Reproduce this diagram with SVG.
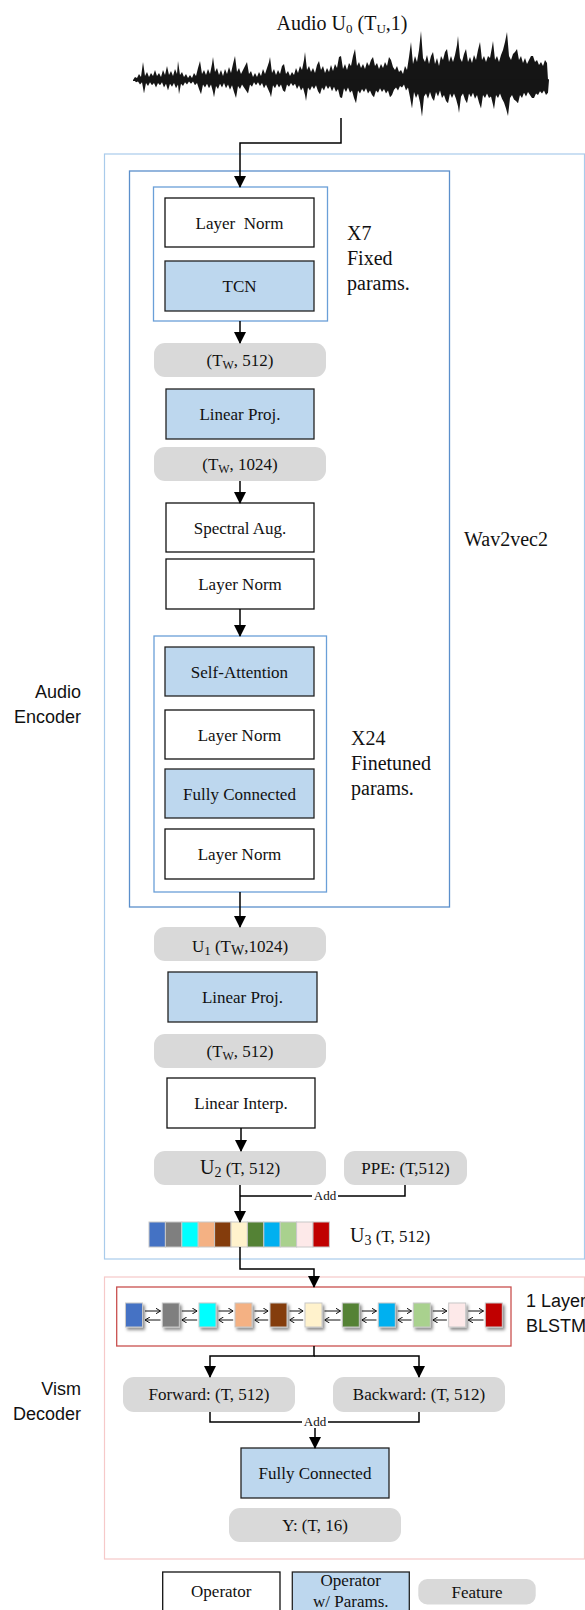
<svg xmlns="http://www.w3.org/2000/svg" width="585" height="1610" viewBox="0 0 585 1610">
<style>
.op{fill:#fff;stroke:#111;stroke-width:1.3}
.opp{fill:#BDD7EE;stroke:#222;stroke-width:1.3}
.ft{fill:#D9D9D9}
.t{font-family:"Liberation Serif","Times New Roman",serif;font-size:17px;fill:#111;text-anchor:middle}
.ts{text-anchor:start}
.lbl{font-family:"Liberation Serif","Times New Roman",serif;font-size:20px;fill:#111}
.sans{font-family:"Liberation Sans",Arial,sans-serif;font-size:18px;fill:#111}
.conn{stroke:#000;stroke-width:1.5;fill:none}
.thin{stroke:#111;stroke-width:1;fill:none}
.add{font-family:"Liberation Serif","Times New Roman",serif;font-size:13px;fill:#111;text-anchor:middle}
.sq{stroke:#c8c8c8;stroke-width:1}
</style>
<defs>
<marker id="ah" markerWidth="12" markerHeight="12" refX="11" refY="6" orient="auto" markerUnits="userSpaceOnUse"><path d="M0,0 L12,6 L0,12 z" fill="#000"/></marker>
<marker id="sa" markerWidth="5" markerHeight="6" refX="5" refY="3" orient="auto" markerUnits="userSpaceOnUse"><path d="M0,0 L5,3 L0,6" fill="none" stroke="#111" stroke-width="1"/></marker>
<filter id="sh" x="-30%" y="-30%" width="170%" height="170%"><feDropShadow dx="2" dy="2.5" stdDeviation="1.5" flood-color="#000" flood-opacity="0.45"/></filter>
<polygon id="wavetop" points="133,80 135,77 137,78 139,74 141,77 143,62 145,76 147,72 149,77 151,73 153,76 155,70 157,76 159,73 161,77 163,70 165,75 167,66 169,75 171,71 173,76 175,69 177,74 178,61 180,75 182,72 184,77 186,74 188,78 190,75 192,78 194,73 196,76 198,68 200,61 202,74 204,70 206,75 208,69 210,74 212,64 213,57 215,72 217,68 219,75 221,70 223,76 225,69 227,74 229,67 231,73 233,64 235,56 237,72 239,68 241,74 243,70 245,66 247,62 249,74 251,71 253,77 255,73 257,77 259,72 261,76 263,69 265,74 267,68 269,62 270,57 272,73 274,69 276,75 278,70 280,74 282,66 284,64 286,74 288,71 290,76 292,72 294,75 296,68 298,73 300,66 302,70 304,60 305,52 307,70 309,66 311,72 313,68 315,73 317,65 319,61 321,70 323,66 325,73 327,68 329,72 331,65 333,71 335,64 337,68 339,57 341,56 343,69 345,64 347,70 349,63 351,66 353,56 355,49 357,66 359,62 361,68 363,64 365,69 367,62 369,66 371,60 373,57 375,66 377,63 379,69 381,64 383,68 385,62 387,66 389,57 391,60 393,67 395,70 397,66 399,72 401,70 403,74 405,66 407,70 409,57 411,42 413,64 415,56 417,62 419,50 421,31 423,58 425,62 427,55 429,64 431,56 433,52 435,64 437,58 439,66 441,56 443,60 445,52 447,49 449,62 451,56 453,62 455,55 457,45 458,36 460,58 462,62 464,54 466,49 468,62 470,57 472,63 474,55 476,60 478,50 480,42 482,60 484,56 486,62 488,56 490,58 492,47 493,41 495,60 497,56 499,62 501,55 503,50 505,42 507,32 509,56 511,60 513,54 515,52 517,49 519,60 521,56 523,63 525,58 527,64 529,60 531,56 533,56 535,62 537,60 539,65 541,62 543,66 545,60 547,63 548,80 548,81 133,81"/>
</defs>
<rect width="585" height="1610" fill="#fff"/>

<!-- title and waveform -->
<g id="audio-input">
<text class="lbl" x="342" y="30" text-anchor="middle">Audio U<tspan font-size="13" dy="3">0</tspan><tspan dy="-3"> (T</tspan><tspan font-size="13" dy="3">U</tspan><tspan dy="-3">,1)</tspan></text>
<g fill="#151515">
<use href="#wavetop"/>
<use href="#wavetop" transform="translate(1,140) scale(1,-0.75)"/>
</g>
</g>

<!-- containers -->
<g id="audio-encoder">
<rect x="104.5" y="154" width="480" height="1105" fill="none" stroke="#A9CBEB" stroke-width="1.2"/>
<text class="sans" x="81" y="698" text-anchor="end">Audio</text>
<text class="sans" x="81" y="723" text-anchor="end">Encoder</text>
</g>
<g id="wav2vec2">
<rect x="129.5" y="171" width="320" height="736" fill="none" stroke="#5B8FCB" stroke-width="1.3"/>
<text class="lbl" x="464" y="546">Wav2vec2</text>
</g>
<g id="x7-block">
<rect x="153.5" y="187" width="174" height="134" fill="none" stroke="#6A9FD8" stroke-width="1.3"/>
<text class="lbl" x="347" y="240">X7</text>
<text class="lbl" x="347" y="265">Fixed</text>
<text class="lbl" x="347" y="290">params.</text>
</g>
<g id="x24-block">
<rect x="154" y="636" width="172.5" height="256" fill="none" stroke="#6A9FD8" stroke-width="1.3"/>
<text class="lbl" x="351" y="745">X24</text>
<text class="lbl" x="351" y="770">Finetuned</text>
<text class="lbl" x="351" y="795">params.</text>
</g>
<g id="vism-decoder">
<rect x="104.5" y="1277" width="480" height="282" fill="none" stroke="#F6C9C9" stroke-width="1.2"/>
<text class="sans" x="81" y="1395" text-anchor="end">Vism</text>
<text class="sans" x="81" y="1420" text-anchor="end">Decoder</text>
</g>

<!-- nodes -->
<g id="layer-norm-1"><rect class="op" x="165" y="198" width="149" height="49"/><text class="t" x="239.5" y="229" xml:space="preserve">Layer  Norm</text></g>
<g id="tcn"><rect class="opp" x="165" y="261" width="149" height="50"/><text class="t" x="239.5" y="292">TCN</text></g>
<g id="feat-tw-512-a"><rect class="ft" x="154" y="343" width="172" height="34" rx="11"/><text class="t" x="240" y="366">(T<tspan font-size="12" dy="3">W</tspan><tspan dy="-3">, 512)</tspan></text></g>
<g id="linear-proj-1"><rect class="opp" x="166" y="389" width="148" height="50"/><text class="t" x="240" y="420">Linear Proj.</text></g>
<g id="feat-tw-1024"><rect class="ft" x="154" y="447" width="172" height="34" rx="11"/><text class="t" x="240" y="470">(T<tspan font-size="12" dy="3">W</tspan><tspan dy="-3">, 1024)</tspan></text></g>
<g id="spectral-aug"><rect class="op" x="166" y="503" width="148" height="49"/><text class="t" x="240" y="534">Spectral Aug.</text></g>
<g id="layer-norm-2"><rect class="op" x="166" y="559" width="148" height="50"/><text class="t" x="240" y="590">Layer Norm</text></g>
<g id="self-attention"><rect class="opp" x="165" y="647" width="149" height="49"/><text class="t" x="239.5" y="678">Self-Attention</text></g>
<g id="layer-norm-3"><rect class="op" x="165" y="710" width="149" height="49"/><text class="t" x="239.5" y="741">Layer Norm</text></g>
<g id="fully-connected-1"><rect class="opp" x="165" y="769" width="149" height="49"/><text class="t" x="239.5" y="800">Fully Connected</text></g>
<g id="layer-norm-4"><rect class="op" x="165" y="829" width="149" height="50"/><text class="t" x="239.5" y="860">Layer Norm</text></g>
<g id="feat-u1"><rect class="ft" x="154" y="927" width="172" height="34" rx="11"/><text class="t" x="240" y="952" font-size="20">U<tspan font-size="13" dy="3">1</tspan><tspan dy="-3"> (T</tspan><tspan font-size="14" dy="3">W</tspan><tspan dy="-3">,1024)</tspan></text></g>
<g id="linear-proj-2"><rect class="opp" x="168" y="972" width="149" height="50"/><text class="t" x="242.5" y="1003">Linear Proj.</text></g>
<g id="feat-tw-512-b"><rect class="ft" x="154" y="1034" width="172" height="34" rx="11"/><text class="t" x="240" y="1057">(T<tspan font-size="12" dy="3">W</tspan><tspan dy="-3">, 512)</tspan></text></g>
<g id="linear-interp"><rect class="op" x="167" y="1078" width="148" height="50"/><text class="t" x="241" y="1109">Linear Interp.</text></g>
<g id="feat-u2"><rect class="ft" x="154" y="1151" width="172" height="34" rx="11"/><text class="t" x="240" y="1174"><tspan font-size="20">U</tspan><tspan font-size="14" dy="3">2</tspan><tspan dy="-3"> (T, 512)</tspan></text></g>
<g id="feat-ppe"><rect class="ft" x="344" y="1151" width="123" height="34" rx="11"/><text class="t" x="405.5" y="1174">PPE: (T,512)</text></g>
<g id="feat-u3">
<rect class="sq" x="149" y="1222" width="16.4" height="25" fill="#4472C4"/>
<rect class="sq" x="165.4" y="1222" width="16.4" height="25" fill="#7F7F7F"/>
<rect class="sq" x="181.8" y="1222" width="16.4" height="25" fill="#00FFFF"/>
<rect class="sq" x="198.2" y="1222" width="16.4" height="25" fill="#F4B183"/>
<rect class="sq" x="214.6" y="1222" width="16.4" height="25" fill="#843C0C"/>
<rect class="sq" x="231" y="1222" width="16.4" height="25" fill="#FFF2CC"/>
<rect class="sq" x="247.4" y="1222" width="16.4" height="25" fill="#548235"/>
<rect class="sq" x="263.8" y="1222" width="16.4" height="25" fill="#00B0F0"/>
<rect class="sq" x="280.2" y="1222" width="16.4" height="25" fill="#A9D18E"/>
<rect class="sq" x="296.6" y="1222" width="16.4" height="25" fill="#FDE9E9"/>
<rect class="sq" x="313" y="1222" width="16.4" height="25" fill="#C00000"/>
<text class="t ts" x="350" y="1242"><tspan font-size="20">U</tspan><tspan font-size="14" dy="3">3</tspan><tspan dy="-3"> (T, 512)</tspan></text>
</g>
<g id="blstm">
<rect x="116.7" y="1287" width="394.3" height="59" fill="none" stroke="#C9504F" stroke-width="1.3"/>
<g filter="url(#sh)">
<rect class="sq" x="125.5" y="1303" width="17" height="24" fill="#4472C4"/>
<rect class="sq" x="162.3" y="1303" width="17" height="24" fill="#7F7F7F"/>
<rect class="sq" x="199" y="1303" width="17" height="24" fill="#00FFFF"/>
<rect class="sq" x="235" y="1303" width="17" height="24" fill="#F4B183"/>
<rect class="sq" x="270" y="1303" width="17" height="24" fill="#843C0C"/>
<rect class="sq" x="305" y="1303" width="17" height="24" fill="#FFF2CC"/>
<rect class="sq" x="342.3" y="1303" width="17" height="24" fill="#548235"/>
<rect class="sq" x="378.3" y="1303" width="17" height="24" fill="#00B0F0"/>
<rect class="sq" x="413.3" y="1303" width="17" height="24" fill="#A9D18E"/>
<rect class="sq" x="448.7" y="1303" width="17" height="24" fill="#FDE9E9"/>
<rect class="sq" x="485.3" y="1303" width="17" height="24" fill="#C00000"/>
</g>
<g class="thin">
<path d="M145,1311 H160.5" marker-end="url(#sa)"/><path d="M160.5,1320 H145" marker-end="url(#sa)"/>
<path d="M181.8,1311 H197.2" marker-end="url(#sa)"/><path d="M197.2,1320 H181.8" marker-end="url(#sa)"/>
<path d="M218.5,1311 H233.2" marker-end="url(#sa)"/><path d="M233.2,1320 H218.5" marker-end="url(#sa)"/>
<path d="M254.5,1311 H268.2" marker-end="url(#sa)"/><path d="M268.2,1320 H254.5" marker-end="url(#sa)"/>
<path d="M289.5,1311 H303.2" marker-end="url(#sa)"/><path d="M303.2,1320 H289.5" marker-end="url(#sa)"/>
<path d="M324.5,1311 H340.5" marker-end="url(#sa)"/><path d="M340.5,1320 H324.5" marker-end="url(#sa)"/>
<path d="M361.8,1311 H376.5" marker-end="url(#sa)"/><path d="M376.5,1320 H361.8" marker-end="url(#sa)"/>
<path d="M397.8,1311 H411.5" marker-end="url(#sa)"/><path d="M411.5,1320 H397.8" marker-end="url(#sa)"/>
<path d="M432.8,1311 H446.9" marker-end="url(#sa)"/><path d="M446.9,1320 H432.8" marker-end="url(#sa)"/>
<path d="M468.2,1311 H483.5" marker-end="url(#sa)"/><path d="M483.5,1320 H468.2" marker-end="url(#sa)"/>
</g>
<text class="sans" x="526" y="1307">1 Layer</text>
<text class="sans" x="526" y="1332">BLSTM</text>
</g>
<g id="feat-forward"><rect class="ft" x="123" y="1377" width="172" height="35" rx="11"/><text class="t" x="209" y="1400">Forward: (T, 512)</text></g>
<g id="feat-backward"><rect class="ft" x="333" y="1377" width="172" height="35" rx="11"/><text class="t" x="419" y="1400">Backward: (T, 512)</text></g>
<g id="fully-connected-2"><rect class="opp" x="241" y="1448" width="148" height="50"/><text class="t" x="315" y="1479">Fully Connected</text></g>
<g id="feat-y"><rect class="ft" x="229" y="1508" width="172" height="34" rx="11"/><text class="t" x="315" y="1531">Y: (T, 16)</text></g>

<!-- legend -->
<g id="legend-operator"><rect class="op" x="162.7" y="1572" width="117.3" height="45"/><text class="t" x="221.3" y="1597">Operator</text></g>
<g id="legend-operator-params"><rect class="opp" x="292.3" y="1572" width="117" height="45"/><text class="t" x="350.8" y="1586">Operator</text><text class="t" x="350.8" y="1607">w/ Params.</text></g>
<g id="legend-feature"><rect class="ft" x="418.3" y="1579" width="117.4" height="25.5" rx="9"/><text class="t" x="477" y="1598">Feature</text></g>

<!-- connectors -->
<g id="connectors">
<path class="conn" d="M341,118 V143 H240 V187" marker-end="url(#ah)"/>
<path class="conn" d="M240,321 V343" marker-end="url(#ah)"/>
<path class="conn" d="M240,481 V503" marker-end="url(#ah)"/>
<path class="conn" d="M240,609 V636" marker-end="url(#ah)"/>
<path class="conn" d="M240,892 V927" marker-end="url(#ah)"/>
<path class="conn" d="M241,1128 V1151" marker-end="url(#ah)"/>
<path class="conn" d="M240,1185 V1222" marker-end="url(#ah)"/>
<path class="conn" d="M405,1185 V1196 H240"/>
<rect x="312" y="1189" width="26" height="13" fill="#fff"/>
<text class="add" x="325" y="1200">Add</text>
<path class="conn" d="M240,1247 V1269 H314 V1287" marker-end="url(#ah)"/>
<path class="conn" d="M314,1346 V1356 H210 V1377" marker-end="url(#ah)"/>
<path class="conn" d="M314,1356 H419 V1377" marker-end="url(#ah)"/>
<path class="conn" d="M210,1412 V1422 H419 V1412"/>
<path class="conn" d="M315,1422 V1448" marker-end="url(#ah)"/>
<rect x="302" y="1415" width="26" height="13" fill="#fff"/>
<text class="add" x="315" y="1426">Add</text>
</g>
</svg>
